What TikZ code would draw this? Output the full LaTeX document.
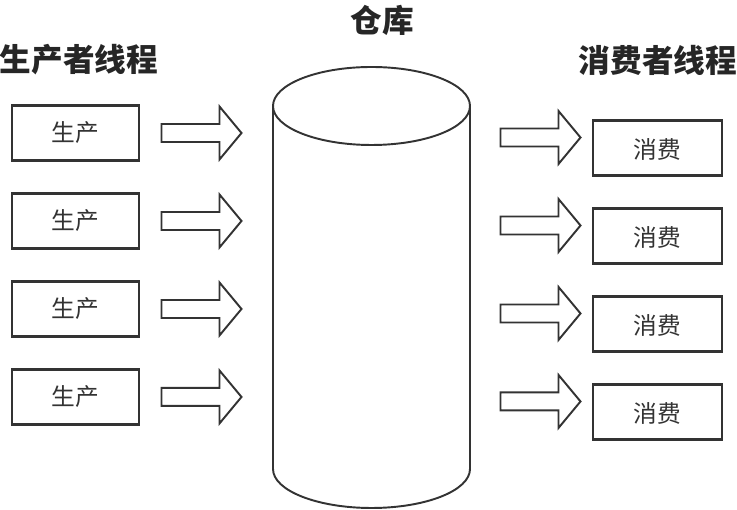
\documentclass[tikz,border=0pt]{standalone}
\usepackage{fontspec}
\newfontfamily\cjk{Noto Sans CJK SC}
\usetikzlibrary{positioning}
\definecolor{ink}{HTML}{333333}

\tikzset{
    blockarrow/.pic={
        \draw[ink, line width=1.1pt, fill=white, line join=miter]
            (0,0.18) -- (1.16,0.18) -- (1.16,0.53) -- (1.6,0)
            -- (1.16,-0.53) -- (1.16,-0.18) -- (0,-0.18) -- cycle;
    }
}

\begin{document}
\begin{tikzpicture}[
    node distance=0.6cm,
    every node/.style={font=\cjk},
    title/.style={font=\cjk\bfseries\fontsize{18}{20}\selectfont, text=black!85},
    pbox/.style={draw=ink, line width=1.7pt, minimum width=2.54cm, minimum height=1.1cm,
        inner sep=0pt, font=\cjk\fontsize{13.5}{15}\selectfont, text=ink},
    cbox/.style={pbox, minimum width=2.58cm, text height=1.3em},
    tank/.style={draw=ink, line width=1.1pt}
]
\useasboundingbox (0,0) rectangle (14.74,-10.2);

% titles
\node[title] (ptitle) at (1.58,-1.2) {生产者线程};
\node[title] (ctitle) at (13.16,-1.2) {消费者线程};
\node[title] (store) at (7.64,-0.4) {仓库};

% warehouse
\coordinate (tank) at (7.43,-2.12);
\draw[tank] ([xshift=-1.97cm]tank) -- ++(0,-7.26)
    arc[start angle=180, end angle=360, x radius=1.97, y radius=0.78] -- ++(0,7.26);
\draw[tank] (tank) ellipse[x radius=1.97, y radius=0.78];

% producers
\node[pbox] (p1) at (1.51,-2.66) {生产};
\node[pbox, below=of p1] (p2) {生产};
\node[pbox, below=of p2] (p3) {生产};
\node[pbox, below=of p3] (p4) {生产};
\pic at ([xshift=0.42cm]p1.east) {blockarrow};
\pic at ([xshift=0.42cm]p2.east) {blockarrow};
\pic at ([xshift=0.42cm]p3.east) {blockarrow};
\pic at ([xshift=0.42cm]p4.east) {blockarrow};

% consumers
\node[cbox] (c1) at (13.15,-2.96) {消费};
\node[cbox, below=of c1] (c2) {消费};
\node[cbox, below=of c2] (c3) {消费};
\node[cbox, below=of c3] (c4) {消费};
\pic at ([shift={(-1.82,0.21)}]c1.west) {blockarrow};
\pic at ([shift={(-1.82,0.21)}]c2.west) {blockarrow};
\pic at ([shift={(-1.82,0.21)}]c3.west) {blockarrow};
\pic at ([shift={(-1.82,0.21)}]c4.west) {blockarrow};
\end{tikzpicture}
\end{document}
